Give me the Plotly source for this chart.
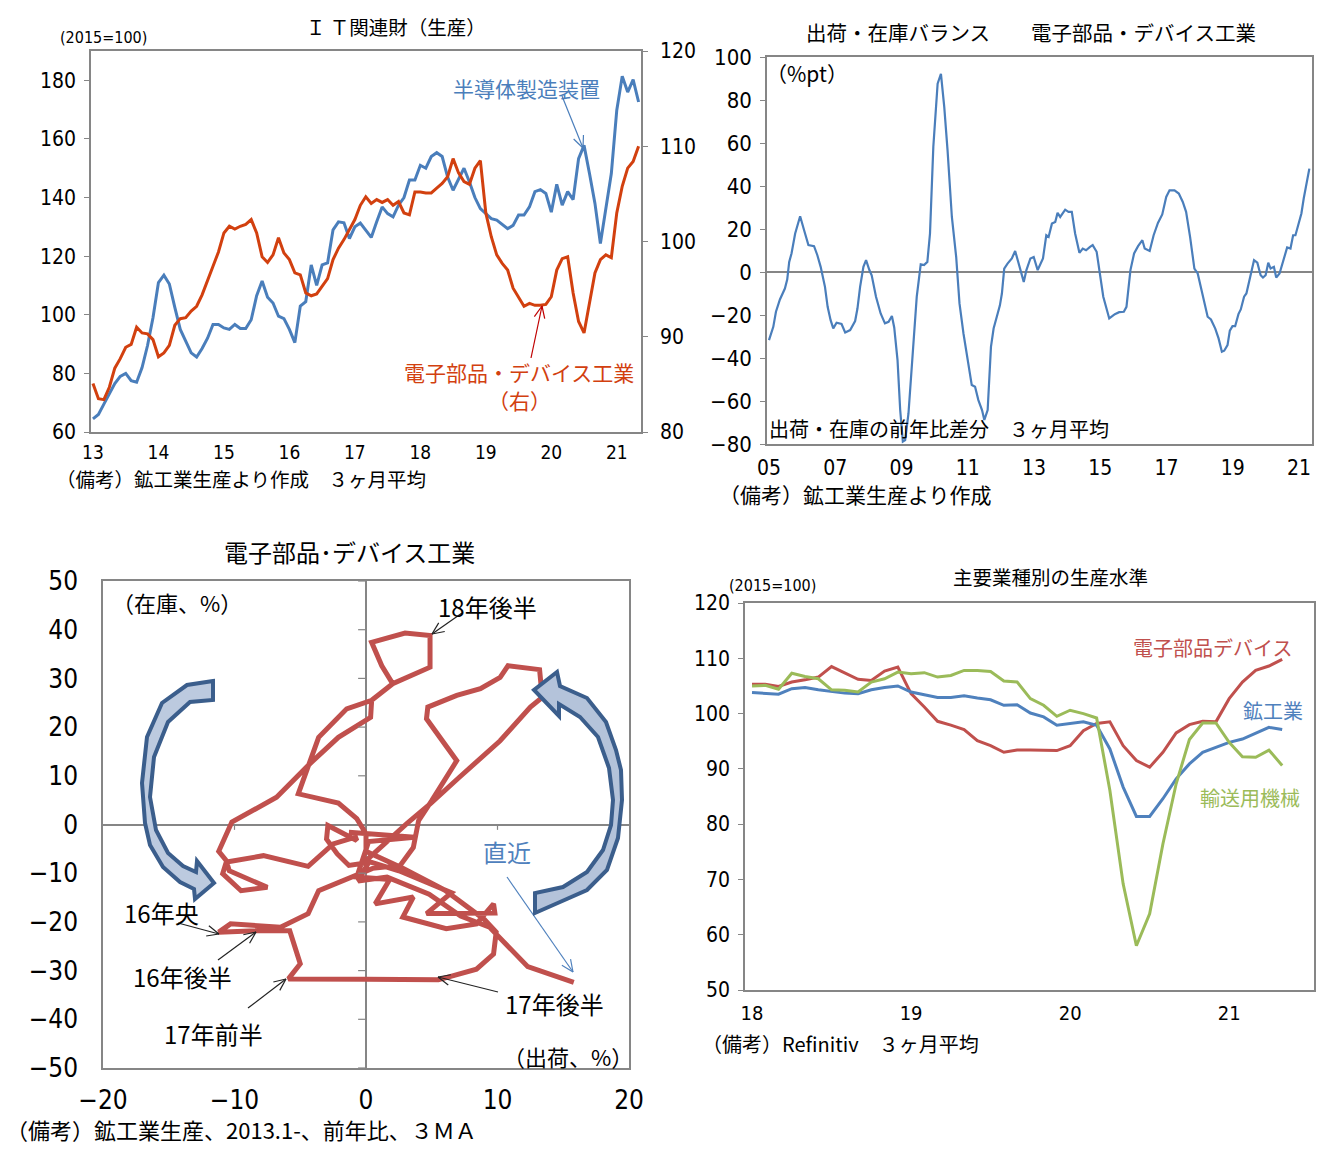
import math
import plotly.graph_objects as go

W, H = 1332, 1164

def PX(x):
    return x / W

def PY(y):
    return 1 - y / H

# ---------------- Panel 1 : IT related goods (monthly from 2013-01) ----------------
p1_start_year = 13
semi_equipment = [64.5, 66, 69.5, 73, 76.5, 79, 80, 77.5, 77, 82,
                  89.5, 99, 111, 113.5, 110.5, 102.5, 95, 91, 87, 85.6,
                  88.5, 92, 96.7, 96.7, 95.5, 95, 96.7, 95.3, 95.3, 98.3,
                  106.5, 111.5, 106, 104, 99.5, 98.7, 95, 90.5, 103, 104.5,
                  117, 110, 117, 117.7, 129, 131.7, 131.4, 126, 130, 131.3,
                  128.9, 126.4, 131.7, 136.8, 134.5, 133.4, 137.4, 140, 146, 146,
                  151, 150, 154, 155.3, 154, 147, 142.5, 146, 150, 145.3,
                  140, 136.2, 134.5, 132.8, 132.3, 131, 129.4, 130.5, 134, 134,
                  136.8, 142, 142.7, 141.4, 135, 144.5, 137.4, 142, 139.3, 153.3,
                  157.8, 148.2, 138, 124.3, 136.3, 148.2, 169.8, 181.4, 176, 180.2,
                  172.6]
elec_devices_right = [85.1, 83.5, 83.4, 84.7, 86.7, 87.7, 88.9, 89.2, 91.0, 90.4,
                      90.3, 89.7, 87.9, 88.3, 89.1, 91.2, 91.9, 92.0, 92.7, 93.2,
                      94.4, 95.8, 97.4, 98.9, 100.9, 101.6, 101.3, 101.6, 101.8, 102.3,
                      100.9, 98.4, 97.8, 98.6, 100.4, 98.8, 98.1, 96.7, 96.5, 94.6,
                      94.3, 94.5, 95.3, 96.1, 98.1, 99.3, 100.2, 101.2, 102.3, 103.8,
                      104.7, 104.0, 104.4, 104.1, 104.4, 103.8, 104.2, 103.0, 102.8, 105.2,
                      105.2, 105.1, 105.1, 105.6, 106.1, 106.8, 108.7, 107.2, 106.3, 106.0,
                      107.7, 108.5, 103.0, 100.5, 98.6, 97.7, 97.0, 95.1, 94.2, 93.2,
                      93.5, 93.3, 93.3, 93.4, 94.2, 97.0, 98.2, 98.4, 94.6, 91.6,
                      90.4, 93.5, 96.7, 98.1, 98.6, 98.3, 103.0, 105.8, 107.7, 108.4,
                      110.0]
p1_years = ["13", "14", "15", "16", "17", "18", "19", "20", "21"]

# ---------------- Panel 2 : shipment-inventory balance ----------------
p2_time = [2005.00, 2005.13, 2005.21, 2005.33, 2005.48, 2005.55, 2005.61, 2005.68, 2005.79, 2005.94,
           2006.06, 2006.19, 2006.36, 2006.46, 2006.56, 2006.69, 2006.77, 2006.86, 2006.94, 2007.04,
           2007.19, 2007.30, 2007.45, 2007.60, 2007.67, 2007.75, 2007.85, 2007.93, 2008.03, 2008.10,
           2008.23, 2008.37, 2008.50, 2008.61, 2008.71, 2008.78, 2008.88, 2008.96, 2009.04, 2009.11,
           2009.21, 2009.34, 2009.46, 2009.58, 2009.68, 2009.78, 2009.86, 2009.96, 2010.09, 2010.19,
           2010.29, 2010.39, 2010.52, 2010.65, 2010.75, 2010.87, 2010.97, 2011.12, 2011.22, 2011.32,
           2011.43, 2011.50, 2011.60, 2011.70, 2011.78, 2011.88, 2011.97, 2012.03, 2012.10, 2012.20,
           2012.33, 2012.43, 2012.56, 2012.69, 2012.77, 2012.89, 2012.99, 2013.11, 2013.27, 2013.37,
           2013.44, 2013.54, 2013.64, 2013.71, 2013.79, 2013.94, 2014.04, 2014.14, 2014.24, 2014.37,
           2014.47, 2014.57, 2014.69, 2014.77, 2014.89, 2014.99, 2015.09, 2015.27, 2015.44, 2015.57,
           2015.71, 2015.79, 2015.91, 2016.02, 2016.14, 2016.27, 2016.34, 2016.49, 2016.61, 2016.74,
           2016.87, 2016.99, 2017.09, 2017.24, 2017.37, 2017.49, 2017.59, 2017.71, 2017.84, 2017.94,
           2018.07, 2018.24, 2018.34, 2018.47, 2018.57, 2018.67, 2018.74, 2018.84, 2018.91, 2018.99,
           2019.07, 2019.17, 2019.24, 2019.34, 2019.41, 2019.51, 2019.64, 2019.74, 2019.84, 2019.91,
           2019.99, 2020.07, 2020.14, 2020.24, 2020.31, 2020.41, 2020.49, 2020.57, 2020.64, 2020.74,
           2020.82, 2020.89, 2020.99, 2021.07, 2021.14, 2021.24, 2021.31]
p2_balance = [-31.7, -25.5, -18.5, -12.8, -7.7, -3.5, 4.7, 8.6, 17.9, 25.9,
              19.4, 12.5, 12.0, 7.8, 2.4, -6.9, -16.2, -22.4, -26.2, -23.6,
              -24.2, -28.1, -27.0, -22.8, -17.0, -6.9, 2.4, 5.5, 0.9, -1.5,
              -11.5, -19.3, -23.9, -23.2, -20.5, -25.8, -41.0, -64.2, -78.9, -78.2,
              -65.8, -39.4, -11.5, 3.6, 3.2, 4.7, 17.9, 58.2, 87.6, 92.2,
              76.8, 56.6, 25.6, 7.0, -14.6, -28.6, -38.7, -52.6, -53.4, -59.6,
              -64.2, -68.8, -64.2, -34.8, -26.3, -20.8, -15.5, -10.0, 1.6, 3.9,
              6.3, 9.8, 2.4, -4.6, 0.9, 6.3, 7.0, 0.9, 6.3, 17.1,
              16.3, 22.5, 23.3, 27.5, 25.6, 29.0, 28.0, 28.0, 17.9, 8.9,
              10.9, 10.1, 11.7, 12.5, 9.4, -2.2, -11.5, -21.6, -19.6, -18.7,
              -18.5, -16.2, 0.9, 8.6, 12.0, 14.8, 10.9, 9.8, 17.1, 22.8,
              26.8, 34.9, 38.0, 38.0, 36.5, 32.6, 28.0, 16.3, 1.6, -0.7,
              -10.0, -20.8, -22.1, -26.3, -30.9, -37.1, -36.6, -34.0, -27.3, -25.2,
              -25.2, -19.6, -17.4, -11.5, -10.0, -3.8, 5.5, 4.3, -1.5, -2.6,
              -1.5, 4.3, 1.6, 2.4, -2.6, -0.7, 3.6, 7.0, 11.4, 10.9,
              17.1, 17.1, 23.3, 27.2, 34.2, 42.7, 48.1]
p2_tickyears = [2005, 2007, 2009, 2011, 2013, 2015, 2017, 2019, 2021]
p2_ticklabels = ["05", "07", "09", "11", "13", "15", "17", "19", "21"]

# ---------------- Panel 3 : shipment vs inventory (yoy %, 3MA) ----------------
ship_yoy = [-1.3, 3.7, 0.2, -0.7, 1.8, 0.7, 3.6, 2.8, 6.1, 8.4,
            9.7, 9.8, 4.6, 6.5, 2.5, 0.0, 3.1, 4.9, 7.1, 10.2,
            12.5, 13.4, 13.2, 10.8, 10.2, 8.7, 6.9, 4.7, 4.6, 6.9,
            5.0, 4.0, 3.6, 2.6, 0.5, -3.6, -4.4, -6.5, -10.3, -11.2,
            -8.2, -5.8, -5.0, -5.9, 0.0, 5.5, 8.4, 9.7, 9.9, 9.0,
            6.0, 2.8, 0.0, 0.0, -0.7, -2.1, -5.15, -3.6, -1.47, 0.43,
            2.03, 1.2, 0.43, 2.97, 4.87, 4.87, 2.03, 0.43, 0.35, -2.1,
            -4.26, -6.8, -10.2, -11.2, -10.6, -10.9, -9.5, -7.5, -10.4, -10.6,
            -7.8, -4.4, -2.5, -0.8, -0.7, -2.9, -3.0, -2.2, -1.3, 0.2,
            -0.6, 1.6, 4.8, 7.2, 9.4, 12.3, 15.8]
inv_yoy = [-1.6, -2.6, -3.5, -10.8, -11.3, -16.3, -14.9, -19.0, -21.4, -20.4,
           -16.3, -18.2, -18.3, -14.0, -9.5, -7.4, 0.2, 4.3, 9.7, 17.2,
           24.1, 26.1, 31.8, 32.6, 30.2, 27.9, 26.5, 24.1, 21.7, 13.1,
           4.9, 0.8, -4.7, -8.4, -9.0, -13.6, -18.3, -21.1, -20.4, -22.1,
           -21.8, -21.8, -28.6, -31.7, -31.8, -31.9, -29.7, -26.6, -22.1, -19.5,
           -13.5, -9.0, -5.5, -1.9, 1.2, 4.4, 6.3, 17.9, 23.75, 25.5,
           28.9, 32.6, 37.4, 39.3, 38.8, 32.3, 28.9, 25.5, 22.0, 17.9,
           12.5, 5.6, 0.5, -5.5, -7.5, -10.1, -13.6, -12.9, -9.5, -7.7,
           -6.4, -8.6, -4.0, -2.6, -3.3, -0.2, -3.0, -6.0, -8.4, -7.8,
           -11.6, -10.8, -14.3, -18.8, -21.1, -29.2, -32.4]

# ---------------- Panel 4 : production level by industry (monthly from 2018-01) ----------------
p4_elec = [105.3, 105.3, 104.9, 105.7, 106.1, 106.6, 108.5, 107.3, 106.2, 106.0,
           107.7, 108.4, 103.6, 101.2, 98.6, 97.9, 97.1, 95.1, 94.2, 93.0,
           93.4, 93.4, 93.3, 93.3, 94.2, 96.9, 98.2, 98.5, 94.2, 91.5,
           90.3, 93.0, 96.5, 98.0, 98.6, 98.5, 102.7, 105.7, 107.8, 108.6,
           109.8]
p4_mining = [103.8, 103.7, 103.5, 104.5, 104.7, 104.3, 104.0, 103.7, 103.6, 104.3,
             104.7, 105.0, 103.9, 103.4, 102.9, 102.9, 103.2, 102.8, 102.5, 101.5,
             101.6, 100.1, 99.4, 97.9, 98.2, 98.5, 97.9, 93.6, 86.7, 81.4,
             81.4, 84.6, 88.2, 90.9, 93.0, 93.9, 94.8, 95.4, 96.5, 97.5,
             97.1]
p4_transport = [105.0, 105.1, 104.4, 107.3, 106.7, 106.3, 104.3, 104.2, 103.9, 105.7,
                106.3, 107.5, 107.2, 107.4, 106.6, 106.9, 107.8, 107.8, 107.6, 105.9,
                105.7, 102.7, 101.5, 99.5, 100.6, 100.0, 99.2, 86.1, 69.2, 58.0,
                63.8, 76.4, 87.3, 95.3, 98.3, 98.3, 94.8, 92.2, 92.1, 93.4,
                90.6]
p4_years = ["18", "19", "20", "21"]

# ---------------- styling ----------------
TICKF = "DejaVu Sans Condensed, Liberation Sans Narrow, Noto Sans CJK JP, sans-serif"
JP = "Noto Sans CJK JP, Noto Sans CJK SC, sans-serif"
AX = "#868686"
BLUE = "#4a7ebb"
RED1 = "#d2400f"
RED = "#c0504d"
GREEN = "#9bbb59"

fig = go.Figure()

p1_x = [p1_start_year + m / 12 for m in range(len(semi_equipment))]
fig.add_trace(go.Scatter(x=p1_x, y=semi_equipment, mode="lines",
                         line=dict(color=BLUE, width=3), xaxis="x", yaxis="y"))
fig.add_trace(go.Scatter(x=p1_x, y=elec_devices_right, mode="lines",
                         line=dict(color=RED1, width=3), xaxis="x", yaxis="y2"))

fig.add_trace(go.Scatter(x=p2_time, y=p2_balance, mode="lines",
                         line=dict(color=BLUE, width=2.2), xaxis="x3", yaxis="y3"))

fig.add_trace(go.Scatter(x=ship_yoy, y=inv_yoy, mode="lines",
                         line=dict(color=RED, width=5, shape="linear"),
                         xaxis="x4", yaxis="y4"))

p4_x = list(range(len(p4_elec)))
fig.add_trace(go.Scatter(x=p4_x, y=p4_elec, mode="lines",
                         line=dict(color=RED, width=3), xaxis="x5", yaxis="y5"))
fig.add_trace(go.Scatter(x=p4_x, y=p4_mining, mode="lines",
                         line=dict(color="#4f81bd", width=3), xaxis="x5", yaxis="y5"))
fig.add_trace(go.Scatter(x=p4_x, y=p4_transport, mode="lines",
                         line=dict(color=GREEN, width=3), xaxis="x5", yaxis="y5"))


def axis_common(size):
    return dict(showline=True, linecolor=AX, linewidth=1.5, showgrid=False,
                zeroline=False, automargin=False,
                tickfont=dict(family=TICKF, size=size, color="#000"),
                ticks="outside", ticklen=5, tickcolor=AX, fixedrange=True)


layout = dict(
    width=W, height=H, autosize=False,
    margin=dict(l=0, r=0, t=0, b=0, pad=0),
    paper_bgcolor="white", plot_bgcolor="white", showlegend=False,
)

# Panel 1 axes
layout["xaxis"] = dict(axis_common(19), domain=[PX(91), PX(641)], anchor="y",
                       range=[12.97, 21.37],
                       tickvals=[p1_start_year + i for i in range(len(p1_years))],
                       ticktext=p1_years, mirror=True, ticks="", ticklabelstandoff=2)
layout["yaxis"] = dict(axis_common(21), domain=[PY(432), PY(51)], anchor="x",
                       range=[60, 190], tickvals=[60, 80, 100, 120, 140, 160, 180],
                       mirror=True, ticklabelstandoff=4)
layout["yaxis2"] = dict(axis_common(21), overlaying="y", side="right", anchor="x",
                        range=[80, 120], tickvals=[80, 90, 100, 110, 120],
                        ticklabelstandoff=8)
# Panel 2 axes
layout["xaxis3"] = dict(axis_common(21), domain=[PX(767), PX(1312)], anchor="y3",
                        range=[2004.94, 2021.39], tickvals=p2_tickyears,
                        ticktext=p2_ticklabels, mirror=True, ticks="", ticklabelstandoff=4)
layout["yaxis3"] = dict(axis_common(22), domain=[PY(444), PY(57)], anchor="x3",
                        range=[-80, 100], dtick=20, tick0=0, mirror=True,
                        zeroline=True, zerolinecolor=AX, zerolinewidth=2,
                        ticklabelstandoff=4)
# Panel 3 axes
layout["xaxis4"] = dict(axis_common(26), domain=[PX(103), PX(629)], anchor="y4",
                        range=[-20, 20], dtick=10, tick0=0, mirror=True, ticks="",
                        zeroline=True, zerolinecolor=AX, zerolinewidth=1.5,
                        ticklabelstandoff=8)
layout["yaxis4"] = dict(axis_common(26), domain=[PY(1068), PY(581)], anchor="x4",
                        range=[-50, 50], dtick=10, tick0=0, mirror=True, ticks="",
                        zeroline=True, zerolinecolor=AX, zerolinewidth=1.5,
                        ticklabelstandoff=18)
# Panel 4 axes
layout["xaxis5"] = dict(axis_common(20), domain=[PX(745), PX(1314)], anchor="y5",
                        range=[-0.53, 42.4], tickvals=[12 * i for i in range(len(p4_years))],
                        ticktext=p4_years, mirror=True, ticks="", ticklabelstandoff=4)
layout["yaxis5"] = dict(axis_common(21), domain=[PY(990), PY(603)], anchor="x5",
                        range=[50, 120], dtick=10, tick0=0, mirror=True,
                        ticklabelstandoff=4)

fig.update_layout(**layout)

# ---------------- text annotations ----------------
annots = []


def text(t, x, y, size, color="#000", xanchor="center", family=JP):
    annots.append(dict(text=t, x=PX(x), y=PY(y), xref="paper", yref="paper",
                       xanchor=xanchor, yanchor="middle", showarrow=False,
                       font=dict(family=family, size=size, color=color)))


# panel 1
text("Ｉ Ｔ関連財（生産）", 396, 26, 19.5)
text("(2015=100)", 103, 38, 16, family=TICKF)
text("半導体製造装置", 526, 88, 21, color=BLUE)
text("電子部品・デバイス工業", 519, 372, 21, color=RED1)
text("（右）", 519, 400, 21, color=RED1)
text("（備考）鉱工業生産より作成　３ヶ月平均", 54, 478, 19.5, xanchor="left")
# panel 2
text("出荷・在庫バランス　　電子部品・デバイス工業", 1031, 32, 20.5)
text("（%pt）", 764, 73, 21, xanchor="left")
text("出荷・在庫の前年比差分　３ヶ月平均", 767, 428, 20, xanchor="left")
text("（備考）鉱工業生産より作成", 717, 494, 21, xanchor="left")
# panel 3
text("電子部品･デバイス工業", 349, 551, 24)
text("（在庫、%）", 110, 602, 22, xanchor="left")
text("18年後半", 487, 606, 24)
text("16年央", 161, 912, 24)
text("16年後半", 182, 976, 24)
text("17年前半", 213, 1033, 24)
text("17年後半", 554, 1003, 24)
text("直近", 507, 851, 24, color="#4f81bd")
text("（出荷、%）", 568, 1056, 22)
text("（備考）鉱工業生産、2013.1-、前年比、３ＭＡ", 4, 1129, 22, xanchor="left")
# panel 4
text("主要業種別の生産水準", 1050, 576, 19.5)
text("(2015=100)", 772, 585, 16, family=TICKF)
text("電子部品デバイス", 1212, 647, 20, color=RED)
text("鉱工業", 1273, 710, 20, color="#4f81bd")
text("輸送用機械", 1250, 797, 20, color=GREEN)
text("（備考）Refinitiv　３ヶ月平均", 700, 1043, 20, xanchor="left")

fig.update_layout(annotations=annots)

# ---------------- decorative shapes ----------------
shapes = []


def line_px(x0, y0, x1, y1, color, width=1.2):
    shapes.append(dict(type="line", xref="paper", yref="paper",
                       x0=PX(x0), y0=PY(y0), x1=PX(x1), y1=PY(y1),
                       line=dict(color=color, width=width)))


def v_arrow(x0, y0, x1, y1, color, width=1.2, L=13, ang=24):
    line_px(x0, y0, x1, y1, color, width)
    dx, dy = x0 - x1, y0 - y1
    n = math.hypot(dx, dy)
    ux, uy = dx / n, dy / n
    a = math.radians(ang)
    for s in (1, -1):
        rx = ux * math.cos(a) - s * uy * math.sin(a)
        ry = s * ux * math.sin(a) + uy * math.cos(a)
        line_px(x1, y1, x1 + L * rx, y1 + L * ry, color, width)


# panel 1 pointers
v_arrow(562, 96, 583, 148, BLUE)
v_arrow(531, 358, 542, 306, "#c00000")
# panel 3 pointers
v_arrow(462, 613, 432, 634, "#222")
v_arrow(178, 923, 219, 934, "#222")
v_arrow(218, 960, 256, 932, "#222")
v_arrow(248, 1008, 286, 979, "#222")
v_arrow(498, 992, 438, 977, "#222")
v_arrow(507, 877, 573, 972, "#4f81bd")

# small ticks on the zero axes of panel 3
for v in [-50, -40, -30, -20, -10, 10, 20, 30, 40, 50]:
    shapes.append(dict(type="line", xref="x4", yref="y4", x0=-0.6, x1=0, y0=v, y1=v,
                       line=dict(color=AX, width=1.2)))
for v in [-10, 10]:
    shapes.append(dict(type="line", xref="x4", yref="y4", x0=v, x1=v, y0=0, y1=-1.1,
                       line=dict(color=AX, width=1.2)))

# curved block arrows (cycle direction)
left_arrow = [(213, 681), (187, 685), (162, 703), (147, 737), (142, 783), (145, 823),
              (150, 845), (163, 867), (180, 882), (194, 889), (195, 899), (214, 883),
              (197, 861), (196, 872), (183, 866), (168, 853), (156, 830), (150, 797),
              (154, 757), (168, 722), (190, 702), (213, 700)]
right_arrow = [(535, 913), (560, 902), (587, 890), (607, 870), (618, 838), (622, 800),
               (621, 770), (616, 750), (606, 722), (587, 698), (560, 686), (557, 672),
               (534, 690), (559, 716), (559, 704), (580, 717), (598, 737), (609, 768),
               (613, 800), (611, 825), (603, 850), (587, 872), (563, 887), (535, 893)]


def poly_path(pts):
    s = "M %.5f,%.5f " % (PX(pts[0][0]), PY(pts[0][1]))
    for x, y in pts[1:]:
        s += "L %.5f,%.5f " % (PX(x), PY(y))
    return s + "Z"


for pts, fillc in ((left_arrow, "#bccadf"), (right_arrow, "#b4c3da")):
    shapes.append(dict(type="path", xref="paper", yref="paper", path=poly_path(pts),
                       fillcolor=fillc, line=dict(color="#3b5e8c", width=4)))

fig.update_layout(shapes=shapes)

fig.write_html("out.html")
